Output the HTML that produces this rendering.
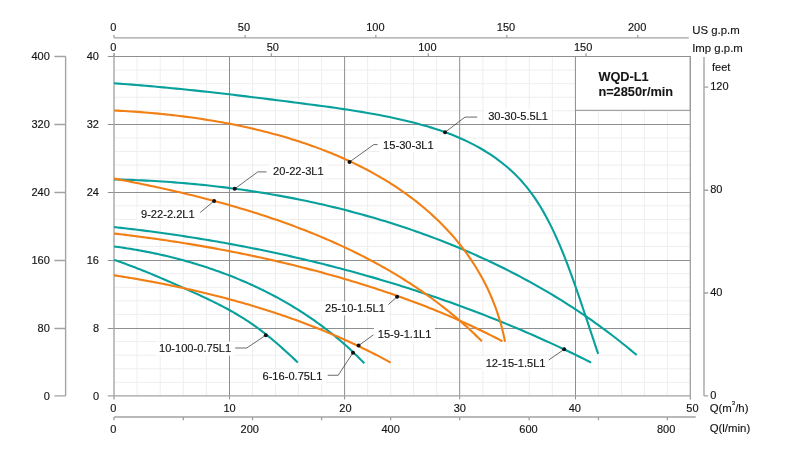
<!DOCTYPE html>
<html><head><meta charset="utf-8"><title>WQD-L1 pump curves</title>
<style>
html,body{margin:0;padding:0;background:#fff;width:800px;height:450px;overflow:hidden}
svg{display:block;will-change:transform}
text{font-family:"Liberation Sans",Arial,sans-serif;font-size:11px;fill:#151515;stroke:#151515;stroke-width:0.15px}
text.lb{font-size:11.1px}
text.u{font-size:11.4px}
text.bd{font-size:12.75px;font-weight:bold;stroke-width:0.1px}
</style></head><body>
<svg width="800" height="450" viewBox="0 0 800 450">
<rect width="800" height="450" fill="#fff"/>
<path d="M137.10 56.5V395.9 M160.20 56.5V395.9 M183.30 56.5V395.9 M206.40 56.5V395.9 M252.52 56.5V395.9 M275.54 56.5V395.9 M298.56 56.5V395.9 M321.58 56.5V395.9 M367.62 56.5V395.9 M390.64 56.5V395.9 M413.66 56.5V395.9 M436.68 56.5V395.9 M482.86 56.5V395.9 M506.02 56.5V395.9 M529.18 56.5V395.9 M552.34 56.5V395.9 M598.46 56.5V395.9 M621.42 56.5V395.9 M644.38 56.5V395.9 M667.34 56.5V395.9 M114 382.32H690.3 M114 368.75H690.3 M114 355.17H690.3 M114 341.60H690.3 M114 314.44H690.3 M114 300.87H690.3 M114 287.29H690.3 M114 273.72H690.3 M114 246.56H690.3 M114 232.99H690.3 M114 219.41H690.3 M114 205.84H690.3 M114 178.68H690.3 M114 165.11H690.3 M114 151.53H690.3 M114 137.96H690.3 M114 110.80H690.3 M114 97.23H690.3 M114 83.65H690.3 M114 70.08H690.3" stroke="#eeeeee" stroke-width="1" fill="none"/>
<path d="M229.50 56.5V399.4 M344.60 56.5V399.4 M459.70 56.5V399.4 M575.50 56.5V399.4 M107.8 328.50H690.3 M107.8 260.50H690.3 M107.8 192.50H690.3 M107.8 124.50H690.3" stroke="#8f8f8f" stroke-width="1" fill="none"/>
<rect x="484.40" y="108.90" width="67.16" height="14" fill="#fff"/>
<rect x="379.30" y="138.15" width="57.90" height="14" fill="#fff"/>
<rect x="269.30" y="164.40" width="57.90" height="14" fill="#fff"/>
<rect x="137.20" y="206.90" width="60.99" height="14" fill="#fff"/>
<rect x="321.20" y="301.40" width="67.16" height="14" fill="#fff"/>
<rect x="373.95" y="327.50" width="60.99" height="14" fill="#fff"/>
<rect x="155.20" y="341.60" width="79.50" height="14" fill="#fff"/>
<rect x="258.70" y="369.60" width="67.16" height="14" fill="#fff"/>
<rect x="481.90" y="356.80" width="67.16" height="14" fill="#fff"/>
<rect x="575.4" y="56.5" width="114.9" height="53.8" fill="#fff" stroke="#8f8f8f" stroke-width="1"/>
<text x="598.4" y="81.3" class="bd">WQD-L1</text>
<text x="598.4" y="95.7" class="bd">n=2850r/min</text>
<path d="M107.8 56.5H690.3" stroke="#8f8f8f" stroke-width="1" fill="none"/>
<path d="M690.3 56.5V399.4" stroke="#999" stroke-width="1.2" fill="none"/>
<path d="M114 53.2V399.4 M107.8 395.9H690.3" stroke="#a2a2a2" stroke-width="1.35" fill="none"/>
<path d="M113.98 83.31 L118.53 83.63 L123.06 83.96 L127.57 84.30 L132.08 84.65 L136.57 85.01 L141.04 85.37 L145.51 85.75 L149.97 86.13 L154.41 86.53 L158.85 86.93 L163.27 87.33 L167.69 87.75 L172.10 88.18 L176.51 88.61 L180.90 89.05 L185.29 89.49 L189.67 89.95 L194.05 90.41 L198.43 90.87 L202.80 91.35 L207.17 91.83 L211.53 92.31 L215.89 92.80 L220.25 93.30 L224.61 93.80 L228.97 94.31 L233.33 94.83 L237.69 95.34 L242.05 95.87 L246.42 96.40 L250.79 96.93 L255.16 97.46 L259.53 98.00 L263.91 98.55 L268.29 99.10 L272.68 99.65 L277.07 100.20 L281.47 100.76 L285.88 101.32 L290.30 101.89 L294.72 102.45 L299.16 103.02 L303.60 103.59 L308.05 104.17 L312.51 104.75 L316.97 105.34 L321.44 105.94 L325.91 106.54 L330.38 107.16 L334.86 107.79 L339.33 108.44 L343.81 109.09 L348.28 109.77 L352.75 110.46 L357.21 111.18 L361.67 111.91 L366.13 112.67 L370.57 113.45 L375.01 114.25 L379.43 115.08 L383.85 115.94 L388.25 116.83 L392.65 117.75 L397.02 118.70 L401.38 119.68 L405.73 120.70 L410.06 121.75 L414.36 122.84 L418.65 123.97 L422.92 125.15 L427.17 126.36 L431.39 127.63 L435.59 128.95 L439.77 130.33 L443.91 131.77 L448.03 133.27 L452.13 134.84 L456.19 136.48 L460.22 138.20 L464.22 140.00 L468.18 141.87 L472.12 143.84 L476.01 145.89 L479.87 148.03 L483.67 150.26 L487.43 152.58 L491.13 154.98 L494.76 157.48 L498.34 160.05 L501.84 162.72 L505.26 165.48 L508.61 168.32 L511.87 171.25 L515.04 174.26 L518.12 177.36 L521.10 180.55 L523.97 183.83 L526.76 187.18 L529.45 190.62 L532.05 194.12 L534.56 197.70 L537.00 201.34 L539.36 205.05 L541.64 208.81 L543.86 212.63 L546.01 216.49 L548.10 220.41 L550.13 224.37 L552.10 228.36 L554.03 232.40 L555.91 236.46 L557.74 240.56 L559.53 244.68 L561.28 248.82 L562.99 252.99 L564.67 257.18 L566.31 261.39 L567.93 265.61 L569.52 269.85 L571.08 274.10 L572.61 278.35 L574.13 282.62 L575.63 286.89 L577.11 291.16 L578.58 295.43 L580.03 299.70 L581.48 303.96 L582.92 308.22 L584.35 312.47 L585.77 316.70 L587.19 320.93 L588.59 325.14 L589.99 329.32 L591.37 333.49 L592.75 337.64 L594.11 341.76 L595.47 345.85 L596.81 349.92 L598.15 353.95" stroke="#07a09c" stroke-width="2.1" fill="none"/>
<path d="M114.02 179.44 L118.03 179.53 L122.05 179.64 L126.06 179.76 L130.08 179.89 L134.10 180.04 L138.12 180.21 L142.15 180.39 L146.17 180.58 L150.20 180.79 L154.23 181.02 L158.25 181.26 L162.28 181.51 L166.31 181.78 L170.34 182.06 L174.37 182.36 L178.41 182.68 L182.44 183.01 L186.47 183.35 L190.50 183.71 L194.53 184.09 L198.57 184.48 L202.60 184.89 L206.63 185.31 L210.66 185.75 L214.69 186.20 L218.72 186.67 L222.74 187.15 L226.77 187.65 L230.79 188.17 L234.82 188.70 L238.84 189.25 L242.86 189.82 L246.88 190.40 L250.90 191.00 L254.91 191.61 L258.92 192.24 L262.93 192.89 L266.94 193.55 L270.95 194.23 L274.95 194.92 L278.95 195.64 L282.95 196.36 L286.94 197.11 L290.93 197.87 L294.92 198.65 L298.90 199.45 L302.88 200.26 L306.86 201.09 L310.83 201.94 L314.80 202.80 L318.77 203.68 L322.73 204.58 L326.69 205.50 L330.64 206.43 L334.59 207.38 L338.53 208.35 L342.47 209.33 L346.40 210.34 L350.33 211.36 L354.25 212.40 L358.17 213.45 L362.08 214.53 L365.98 215.62 L369.88 216.73 L373.78 217.85 L377.67 219.00 L381.55 220.16 L385.43 221.34 L389.30 222.54 L393.16 223.76 L397.02 225.00 L400.86 226.25 L404.71 227.53 L408.54 228.82 L412.37 230.13 L416.19 231.46 L420.01 232.80 L423.81 234.17 L427.61 235.55 L431.40 236.96 L435.19 238.38 L438.96 239.82 L442.73 241.28 L446.49 242.76 L450.24 244.26 L453.98 245.77 L457.71 247.31 L461.44 248.87 L465.15 250.44 L468.86 252.04 L472.56 253.65 L476.25 255.28 L479.92 256.94 L483.59 258.61 L487.25 260.30 L490.90 262.01 L494.54 263.74 L498.17 265.49 L501.79 267.27 L505.40 269.06 L508.99 270.87 L512.58 272.70 L516.16 274.55 L519.73 276.42 L523.28 278.31 L526.82 280.22 L530.36 282.16 L533.88 284.11 L537.39 286.08 L540.89 288.08 L544.37 290.09 L547.85 292.12 L551.31 294.18 L554.76 296.26 L558.20 298.35 L561.62 300.47 L565.04 302.61 L568.44 304.77 L571.83 306.95 L575.20 309.15 L578.56 311.37 L581.91 313.62 L585.25 315.88 L588.57 318.17 L591.88 320.47 L595.17 322.80 L598.45 325.15 L601.72 327.53 L604.97 329.92 L608.21 332.33 L611.44 334.77 L614.65 337.23 L617.84 339.71 L621.03 342.21 L624.19 344.74 L627.34 347.28 L630.48 349.85 L633.60 352.44 L636.71 355.05" stroke="#07a09c" stroke-width="2.1" fill="none"/>
<path d="M114.01 227.06 L117.57 227.45 L121.13 227.85 L124.69 228.26 L128.25 228.67 L131.81 229.09 L135.36 229.52 L138.92 229.96 L142.48 230.41 L146.03 230.86 L149.59 231.32 L153.14 231.79 L156.70 232.27 L160.25 232.75 L163.80 233.25 L167.35 233.75 L170.91 234.25 L174.46 234.77 L178.00 235.30 L181.55 235.83 L185.10 236.37 L188.65 236.92 L192.19 237.47 L195.73 238.04 L199.28 238.61 L202.82 239.19 L206.36 239.78 L209.90 240.38 L213.44 240.98 L216.97 241.59 L220.51 242.21 L224.04 242.84 L227.58 243.48 L231.11 244.13 L234.64 244.78 L238.17 245.44 L241.69 246.11 L245.22 246.79 L248.74 247.48 L252.26 248.17 L255.79 248.88 L259.30 249.59 L262.82 250.31 L266.34 251.04 L269.85 251.78 L273.36 252.52 L276.87 253.28 L280.38 254.04 L283.89 254.81 L287.40 255.59 L290.90 256.38 L294.40 257.17 L297.90 257.98 L301.40 258.79 L304.89 259.61 L308.38 260.44 L311.87 261.28 L315.36 262.13 L318.85 262.99 L322.33 263.85 L325.82 264.73 L329.30 265.61 L332.77 266.50 L336.25 267.40 L339.72 268.31 L343.19 269.22 L346.66 270.15 L350.13 271.09 L353.59 272.03 L357.05 272.98 L360.51 273.94 L363.96 274.91 L367.42 275.89 L370.87 276.88 L374.32 277.88 L377.76 278.88 L381.20 279.90 L384.64 280.92 L388.08 281.95 L391.51 282.99 L394.94 284.04 L398.37 285.10 L401.80 286.17 L405.22 287.25 L408.64 288.34 L412.06 289.43 L415.47 290.54 L418.88 291.65 L422.29 292.78 L425.69 293.91 L429.09 295.05 L432.49 296.20 L435.88 297.36 L439.27 298.53 L442.66 299.71 L446.05 300.90 L449.43 302.09 L452.81 303.30 L456.18 304.51 L459.55 305.74 L462.92 306.97 L466.28 308.22 L469.64 309.47 L473.00 310.73 L476.35 312.00 L479.70 313.29 L483.05 314.58 L486.39 315.88 L489.73 317.19 L493.06 318.51 L496.40 319.83 L499.72 321.17 L503.05 322.52 L506.37 323.88 L509.68 325.24 L512.99 326.62 L516.30 328.01 L519.60 329.40 L522.90 330.81 L526.20 332.22 L529.49 333.65 L532.78 335.08 L536.06 336.53 L539.34 337.98 L542.61 339.45 L545.88 340.92 L549.15 342.40 L552.41 343.90 L555.67 345.40 L558.92 346.91 L562.17 348.43 L565.42 349.97 L568.65 351.51 L571.89 353.06 L575.12 354.62 L578.35 356.20 L581.57 357.78 L584.79 359.37 L588.00 360.97 L591.20 362.58" stroke="#07a09c" stroke-width="2.1" fill="none"/>
<path d="M114.01 246.48 L116.00 246.74 L117.99 247.01 L119.99 247.29 L121.98 247.57 L123.97 247.87 L125.96 248.17 L127.96 248.48 L129.95 248.80 L131.94 249.12 L133.93 249.45 L135.92 249.79 L137.91 250.14 L139.90 250.50 L141.89 250.86 L143.88 251.23 L145.87 251.61 L147.85 252.00 L149.84 252.39 L151.82 252.80 L153.81 253.21 L155.79 253.63 L157.77 254.05 L159.75 254.49 L161.73 254.93 L163.70 255.38 L165.68 255.84 L167.65 256.31 L169.63 256.78 L171.60 257.27 L173.57 257.76 L175.54 258.26 L177.50 258.76 L179.46 259.28 L181.43 259.80 L183.39 260.33 L185.34 260.87 L187.30 261.42 L189.25 261.98 L191.21 262.54 L193.15 263.12 L195.10 263.70 L197.05 264.29 L198.99 264.89 L200.93 265.49 L202.86 266.11 L204.80 266.73 L206.73 267.36 L208.66 268.00 L210.58 268.65 L212.50 269.30 L214.42 269.97 L216.34 270.64 L218.25 271.32 L220.16 272.01 L222.07 272.71 L223.97 273.42 L225.88 274.14 L227.77 274.86 L229.67 275.59 L231.56 276.33 L233.44 277.08 L235.32 277.84 L237.20 278.61 L239.08 279.39 L240.95 280.17 L242.82 280.96 L244.68 281.76 L246.54 282.57 L248.39 283.39 L250.24 284.22 L252.09 285.06 L253.93 285.90 L255.77 286.76 L257.60 287.62 L259.43 288.49 L261.26 289.37 L263.08 290.26 L264.89 291.16 L266.70 292.07 L268.51 292.98 L270.31 293.91 L272.10 294.84 L273.90 295.78 L275.68 296.74 L277.46 297.70 L279.24 298.67 L281.01 299.64 L282.77 300.63 L284.53 301.63 L286.29 302.63 L288.04 303.65 L289.78 304.67 L291.52 305.71 L293.25 306.75 L294.97 307.80 L296.69 308.86 L298.41 309.93 L300.12 311.01 L301.82 312.09 L303.52 313.19 L305.21 314.30 L306.89 315.41 L308.57 316.54 L310.24 317.67 L311.90 318.81 L313.56 319.97 L315.22 321.13 L316.86 322.30 L318.50 323.48 L320.13 324.67 L321.76 325.87 L323.38 327.08 L324.99 328.29 L326.60 329.52 L328.19 330.76 L329.78 332.00 L331.37 333.26 L332.95 334.52 L334.52 335.80 L336.08 337.08 L337.63 338.38 L339.18 339.68 L340.72 340.99 L342.25 342.31 L343.78 343.65 L345.29 344.99 L346.80 346.34 L348.31 347.70 L349.80 349.07 L351.29 350.45 L352.76 351.84 L354.23 353.24 L355.70 354.65 L357.15 356.07 L358.59 357.49 L360.03 358.93 L361.46 360.38 L362.88 361.84 L364.29 363.31" stroke="#07a09c" stroke-width="2.1" fill="none"/>
<path d="M114.00 259.90 L115.43 260.37 L116.85 260.85 L118.28 261.34 L119.70 261.83 L121.13 262.33 L122.56 262.83 L123.98 263.34 L125.41 263.86 L126.84 264.38 L128.27 264.90 L129.69 265.43 L131.12 265.97 L132.55 266.51 L133.98 267.05 L135.41 267.60 L136.84 268.15 L138.27 268.71 L139.69 269.27 L141.12 269.84 L142.55 270.41 L143.98 270.98 L145.41 271.56 L146.83 272.14 L148.26 272.72 L149.69 273.31 L151.11 273.90 L152.54 274.49 L153.96 275.09 L155.39 275.69 L156.81 276.29 L158.24 276.89 L159.66 277.50 L161.08 278.10 L162.50 278.71 L163.92 279.33 L165.34 279.94 L166.76 280.55 L168.17 281.17 L169.59 281.79 L171.00 282.41 L172.42 283.03 L173.83 283.65 L175.24 284.27 L176.65 284.89 L178.06 285.52 L179.47 286.14 L180.87 286.76 L182.28 287.39 L183.68 288.01 L185.08 288.64 L186.48 289.26 L187.88 289.88 L189.27 290.51 L190.67 291.14 L192.06 291.76 L193.45 292.39 L194.84 293.02 L196.22 293.65 L197.61 294.28 L198.99 294.92 L200.37 295.55 L201.75 296.19 L203.12 296.84 L204.50 297.48 L205.87 298.13 L207.24 298.78 L208.61 299.43 L209.97 300.09 L211.33 300.75 L212.69 301.41 L214.05 302.08 L215.40 302.75 L216.75 303.43 L218.10 304.11 L219.45 304.79 L220.79 305.49 L222.13 306.18 L223.47 306.88 L224.81 307.59 L226.14 308.30 L227.47 309.02 L228.79 309.75 L230.11 310.48 L231.43 311.21 L232.75 311.96 L234.06 312.71 L235.37 313.47 L236.68 314.23 L237.98 315.00 L239.28 315.78 L240.58 316.57 L241.87 317.37 L243.16 318.17 L244.44 318.98 L245.73 319.81 L247.00 320.64 L248.28 321.47 L249.55 322.32 L250.81 323.18 L252.08 324.05 L253.34 324.92 L254.59 325.81 L255.84 326.70 L257.09 327.60 L258.33 328.52 L259.57 329.44 L260.80 330.36 L262.03 331.30 L263.26 332.24 L264.48 333.19 L265.69 334.15 L266.91 335.11 L268.11 336.08 L269.32 337.06 L270.51 338.04 L271.71 339.03 L272.90 340.02 L274.08 341.02 L275.26 342.02 L276.44 343.02 L277.61 344.03 L278.77 345.05 L279.93 346.07 L281.09 347.08 L282.24 348.11 L283.38 349.13 L284.52 350.16 L285.65 351.18 L286.78 352.21 L287.91 353.24 L289.03 354.26 L290.14 355.29 L291.25 356.31 L292.35 357.34 L293.45 358.36 L294.54 359.38 L295.62 360.39 L296.70 361.41 L297.78 362.42" stroke="#07a09c" stroke-width="2.1" fill="none"/>
<path d="M114.08 110.49 L117.43 110.65 L120.80 110.83 L124.17 111.02 L127.56 111.22 L130.96 111.44 L134.37 111.67 L137.79 111.91 L141.22 112.17 L144.66 112.44 L148.11 112.72 L151.56 113.02 L155.03 113.33 L158.50 113.66 L161.98 114.00 L165.46 114.36 L168.95 114.73 L172.45 115.12 L175.96 115.53 L179.46 115.95 L182.98 116.38 L186.49 116.84 L190.01 117.31 L193.54 117.80 L197.06 118.30 L200.59 118.82 L204.12 119.36 L207.66 119.92 L211.19 120.49 L214.72 121.08 L218.26 121.70 L221.79 122.33 L225.33 122.97 L228.86 123.64 L232.39 124.33 L235.92 125.03 L239.45 125.76 L242.97 126.51 L246.49 127.27 L250.01 128.06 L253.52 128.87 L257.03 129.69 L260.53 130.54 L264.03 131.41 L267.52 132.30 L271.01 133.21 L274.49 134.15 L277.96 135.10 L281.43 136.08 L284.88 137.08 L288.33 138.11 L291.77 139.15 L295.20 140.22 L298.62 141.31 L302.03 142.43 L305.43 143.57 L308.82 144.73 L312.19 145.92 L315.56 147.13 L318.91 148.37 L322.25 149.63 L325.58 150.91 L328.89 152.23 L332.19 153.56 L335.48 154.92 L338.75 156.31 L342.00 157.73 L345.24 159.17 L348.46 160.63 L351.67 162.13 L354.85 163.65 L358.03 165.19 L361.18 166.77 L364.31 168.37 L367.43 170.00 L370.53 171.66 L373.60 173.35 L376.66 175.06 L379.69 176.80 L382.71 178.57 L385.70 180.37 L388.68 182.20 L391.63 184.06 L394.55 185.95 L397.46 187.87 L400.34 189.82 L403.19 191.80 L406.02 193.81 L408.83 195.85 L411.61 197.92 L414.37 200.02 L417.10 202.16 L419.80 204.32 L422.47 206.52 L425.12 208.75 L427.74 211.00 L430.33 213.29 L432.89 215.62 L435.41 217.97 L437.91 220.35 L440.38 222.77 L442.81 225.22 L445.21 227.70 L447.57 230.21 L449.91 232.75 L452.20 235.32 L454.46 237.93 L456.69 240.56 L458.87 243.23 L461.02 245.93 L463.14 248.67 L465.21 251.43 L467.24 254.23 L469.24 257.05 L471.19 259.91 L473.10 262.80 L474.97 265.73 L476.80 268.68 L478.59 271.67 L480.33 274.69 L482.03 277.74 L483.68 280.82 L485.28 283.93 L486.85 287.08 L488.36 290.26 L489.83 293.47 L491.24 296.71 L492.61 299.99 L493.93 303.30 L495.20 306.64 L496.42 310.01 L497.59 313.41 L498.71 316.85 L499.77 320.32 L500.79 323.82 L501.74 327.35 L502.65 330.92 L503.50 334.51 L504.29 338.14 L505.03 341.81" stroke="#f17f14" stroke-width="2.1" fill="none"/>
<path d="M114.03 178.57 L116.87 179.11 L119.72 179.65 L122.57 180.19 L125.42 180.75 L128.28 181.30 L131.13 181.87 L133.99 182.43 L136.85 183.01 L139.71 183.59 L142.57 184.17 L145.43 184.76 L148.29 185.36 L151.16 185.96 L154.02 186.57 L156.89 187.19 L159.76 187.81 L162.62 188.44 L165.49 189.07 L168.36 189.71 L171.23 190.36 L174.09 191.02 L176.96 191.68 L179.83 192.35 L182.70 193.02 L185.57 193.71 L188.43 194.40 L191.30 195.09 L194.16 195.80 L197.03 196.51 L199.89 197.23 L202.76 197.96 L205.62 198.69 L208.48 199.43 L211.34 200.19 L214.19 200.94 L217.05 201.71 L219.90 202.49 L222.76 203.27 L225.61 204.06 L228.46 204.86 L231.30 205.67 L234.15 206.49 L236.99 207.32 L239.83 208.15 L242.66 209.00 L245.50 209.85 L248.33 210.71 L251.16 211.59 L253.98 212.47 L256.80 213.36 L259.62 214.26 L262.44 215.17 L265.25 216.09 L268.06 217.02 L270.86 217.96 L273.66 218.90 L276.46 219.86 L279.25 220.83 L282.04 221.81 L284.83 222.80 L287.61 223.80 L290.38 224.81 L293.16 225.83 L295.92 226.87 L298.68 227.91 L301.44 228.96 L304.19 230.03 L306.94 231.10 L309.68 232.19 L312.42 233.29 L315.15 234.40 L317.87 235.52 L320.59 236.65 L323.31 237.79 L326.01 238.95 L328.71 240.12 L331.41 241.30 L334.10 242.49 L336.78 243.69 L339.46 244.90 L342.13 246.13 L344.79 247.37 L347.45 248.62 L350.10 249.89 L352.74 251.17 L355.38 252.46 L358.00 253.76 L360.63 255.07 L363.24 256.40 L365.85 257.74 L368.44 259.10 L371.03 260.47 L373.62 261.85 L376.19 263.24 L378.76 264.65 L381.32 266.07 L383.86 267.51 L386.41 268.96 L388.94 270.42 L391.46 271.90 L393.98 273.39 L396.48 274.89 L398.98 276.41 L401.47 277.95 L403.95 279.50 L406.42 281.06 L408.88 282.64 L411.33 284.23 L413.77 285.83 L416.20 287.46 L418.62 289.09 L421.04 290.74 L423.44 292.41 L425.83 294.09 L428.21 295.79 L430.58 297.50 L432.94 299.23 L435.29 300.97 L437.63 302.73 L439.95 304.51 L442.27 306.30 L444.58 308.11 L446.87 309.93 L449.15 311.77 L451.42 313.63 L453.68 315.50 L455.93 317.39 L458.17 319.29 L460.39 321.21 L462.60 323.15 L464.80 325.10 L466.99 327.08 L469.17 329.06 L471.33 331.07 L473.48 333.09 L475.62 335.13 L477.75 337.19 L479.86 339.26 L481.96 341.36" stroke="#f17f14" stroke-width="2.1" fill="none"/>
<path d="M114.02 233.54 L116.89 233.87 L119.77 234.21 L122.65 234.55 L125.53 234.90 L128.41 235.25 L131.29 235.60 L134.17 235.97 L137.05 236.34 L139.93 236.71 L142.81 237.09 L145.69 237.47 L148.57 237.86 L151.45 238.26 L154.33 238.66 L157.21 239.07 L160.09 239.48 L162.97 239.90 L165.86 240.32 L168.74 240.75 L171.62 241.18 L174.50 241.62 L177.38 242.07 L180.26 242.52 L183.14 242.98 L186.02 243.44 L188.90 243.91 L191.78 244.39 L194.66 244.87 L197.53 245.36 L200.41 245.85 L203.29 246.35 L206.16 246.85 L209.04 247.36 L211.92 247.88 L214.79 248.40 L217.66 248.93 L220.54 249.46 L223.41 250.00 L226.28 250.55 L229.15 251.10 L232.02 251.66 L234.89 252.23 L237.75 252.80 L240.62 253.37 L243.49 253.96 L246.35 254.55 L249.21 255.14 L252.07 255.74 L254.93 256.35 L257.79 256.97 L260.65 257.59 L263.51 258.21 L266.36 258.85 L269.22 259.49 L272.07 260.13 L274.92 260.78 L277.77 261.44 L280.61 262.11 L283.46 262.78 L286.30 263.46 L289.15 264.14 L291.99 264.84 L294.83 265.53 L297.66 266.24 L300.50 266.95 L303.33 267.67 L306.16 268.39 L308.99 269.12 L311.82 269.86 L314.64 270.60 L317.47 271.35 L320.29 272.11 L323.11 272.88 L325.92 273.65 L328.74 274.43 L331.55 275.21 L334.36 276.00 L337.17 276.80 L339.97 277.61 L342.77 278.42 L345.57 279.24 L348.37 280.06 L351.17 280.90 L353.96 281.74 L356.75 282.59 L359.54 283.44 L362.32 284.30 L365.10 285.17 L367.88 286.05 L370.66 286.93 L373.43 287.83 L376.20 288.73 L378.97 289.64 L381.73 290.55 L384.49 291.48 L387.25 292.41 L390.01 293.35 L392.76 294.30 L395.51 295.25 L398.25 296.22 L401.00 297.19 L403.74 298.17 L406.47 299.16 L409.20 300.16 L411.93 301.17 L414.66 302.19 L417.38 303.22 L420.10 304.25 L422.81 305.29 L425.53 306.35 L428.23 307.41 L430.94 308.48 L433.64 309.56 L436.34 310.66 L439.03 311.76 L441.72 312.87 L444.40 313.99 L447.08 315.12 L449.76 316.26 L452.43 317.41 L455.10 318.56 L457.77 319.73 L460.43 320.91 L463.09 322.11 L465.74 323.31 L468.39 324.52 L471.03 325.74 L473.67 326.97 L476.31 328.21 L478.94 329.47 L481.57 330.73 L484.19 332.01 L486.81 333.30 L489.42 334.59 L492.03 335.90 L494.64 337.22 L497.24 338.55 L499.83 339.90 L502.42 341.25" stroke="#f17f14" stroke-width="2.1" fill="none"/>
<path d="M114.00 275.29 L116.07 275.61 L118.14 275.94 L120.21 276.27 L122.27 276.60 L124.34 276.93 L126.41 277.27 L128.48 277.61 L130.54 277.96 L132.61 278.31 L134.68 278.66 L136.74 279.02 L138.81 279.38 L140.88 279.74 L142.94 280.11 L145.01 280.48 L147.07 280.85 L149.14 281.23 L151.20 281.62 L153.26 282.00 L155.33 282.39 L157.39 282.79 L159.45 283.18 L161.51 283.59 L163.57 283.99 L165.64 284.40 L167.69 284.81 L169.75 285.23 L171.81 285.65 L173.87 286.08 L175.93 286.51 L177.98 286.94 L180.04 287.38 L182.10 287.82 L184.15 288.27 L186.20 288.72 L188.26 289.17 L190.31 289.63 L192.36 290.09 L194.41 290.56 L196.46 291.03 L198.51 291.51 L200.55 291.99 L202.60 292.47 L204.64 292.96 L206.69 293.45 L208.73 293.95 L210.77 294.45 L212.81 294.96 L214.85 295.47 L216.89 295.99 L218.93 296.51 L220.97 297.03 L223.00 297.56 L225.03 298.09 L227.07 298.63 L229.10 299.17 L231.13 299.72 L233.15 300.27 L235.18 300.83 L237.21 301.39 L239.23 301.96 L241.25 302.53 L243.27 303.10 L245.29 303.68 L247.31 304.27 L249.33 304.86 L251.34 305.46 L253.36 306.06 L255.37 306.66 L257.38 307.27 L259.39 307.89 L261.39 308.51 L263.40 309.13 L265.40 309.76 L267.40 310.40 L269.40 311.04 L271.40 311.68 L273.39 312.33 L275.39 312.99 L277.38 313.65 L279.37 314.31 L281.36 314.98 L283.34 315.66 L285.33 316.34 L287.31 317.03 L289.29 317.72 L291.27 318.42 L293.25 319.12 L295.22 319.83 L297.19 320.54 L299.16 321.26 L301.13 321.99 L303.09 322.72 L305.06 323.45 L307.02 324.19 L308.98 324.94 L310.93 325.69 L312.89 326.45 L314.84 327.21 L316.79 327.98 L318.73 328.76 L320.68 329.54 L322.62 330.32 L324.56 331.11 L326.50 331.91 L328.43 332.71 L330.36 333.52 L332.29 334.34 L334.22 335.16 L336.14 335.99 L338.07 336.82 L339.98 337.66 L341.90 338.50 L343.81 339.35 L345.73 340.21 L347.63 341.07 L349.54 341.93 L351.44 342.81 L353.34 343.69 L355.24 344.57 L357.13 345.47 L359.02 346.37 L360.91 347.27 L362.80 348.18 L364.68 349.10 L366.56 350.02 L368.43 350.95 L370.31 351.88 L372.18 352.83 L374.04 353.77 L375.91 354.73 L377.77 355.69 L379.63 356.66 L381.48 357.63 L383.33 358.61 L385.18 359.60 L387.02 360.59 L388.86 361.59 L390.70 362.59" stroke="#f17f14" stroke-width="2.1" fill="none"/>
<path d="M445 132.3 L465 117.1 L477.2 117.1" stroke="#444" stroke-width="0.8" fill="none"/>
<circle cx="445" cy="132.3" r="2" fill="#111"/>
<text x="488.2" y="119.5" class="lb">30-30-5.5L1</text>
<path d="M349.5 162 L373.75 144.6 L377.5 144.6" stroke="#444" stroke-width="0.8" fill="none"/>
<circle cx="349.5" cy="162" r="2" fill="#111"/>
<text x="383.1" y="148.75" class="lb">15-30-3L1</text>
<path d="M234.7 188.8 L257.75 171.9 L266.5 171.9" stroke="#444" stroke-width="0.8" fill="none"/>
<circle cx="234.7" cy="188.8" r="2" fill="#111"/>
<text x="273.1" y="175" class="lb">20-22-3L1</text>
<path d="M214.1 200.9 L200.25 212.5" stroke="#444" stroke-width="0.8" fill="none"/>
<circle cx="214.1" cy="200.9" r="2" fill="#111"/>
<text x="141" y="217.5" class="lb">9-22-2.2L1</text>
<path d="M397.1 296.75 L388.3 304.6" stroke="#444" stroke-width="0.8" fill="none"/>
<circle cx="397.1" cy="296.75" r="2" fill="#111"/>
<text x="325" y="312.0" class="lb">25-10-1.5L1</text>
<path d="M358.6 345.6 L373.5 334.75" stroke="#444" stroke-width="0.8" fill="none"/>
<circle cx="358.6" cy="345.6" r="2" fill="#111"/>
<text x="377.75" y="338.1" class="lb">15-9-1.1L1</text>
<path d="M265.8 335.2 L246.7 348 L235.2 348" stroke="#444" stroke-width="0.8" fill="none"/>
<circle cx="265.8" cy="335.2" r="2" fill="#111"/>
<text x="159" y="352.2" class="lb">10-100-0.75L1</text>
<path d="M353 352.7 L338.2 375.25 L327.7 375.25" stroke="#444" stroke-width="0.8" fill="none"/>
<circle cx="353" cy="352.7" r="2" fill="#111"/>
<text x="262.5" y="380.2" class="lb">6-16-0.75L1</text>
<path d="M564.2 349.3 L548.7 360" stroke="#444" stroke-width="0.8" fill="none"/>
<circle cx="564.2" cy="349.3" r="2" fill="#111"/>
<text x="485.7" y="367.4" class="lb">12-15-1.5L1</text>
<text x="99" y="399.60" text-anchor="end">0</text>
<text x="99" y="331.72" text-anchor="end">8</text>
<text x="99" y="263.84" text-anchor="end">16</text>
<text x="99" y="195.96" text-anchor="end">24</text>
<text x="99" y="128.08" text-anchor="end">32</text>
<text x="99" y="60.20" text-anchor="end">40</text>
<path d="M65.6 56.5V395.9 M54.4 395.90H65.6 M54.4 328.50H65.6 M54.4 260.50H65.6 M54.4 192.50H65.6 M54.4 124.50H65.6 M54.4 56.50H65.6" stroke="#a2a2a2" stroke-width="1.35" fill="none"/>
<text x="49.8" y="399.60" text-anchor="end">0</text>
<text x="49.8" y="331.72" text-anchor="end">80</text>
<text x="49.8" y="263.84" text-anchor="end">160</text>
<text x="49.8" y="195.96" text-anchor="end">240</text>
<text x="49.8" y="128.08" text-anchor="end">320</text>
<text x="49.8" y="60.20" text-anchor="end">400</text>
<path d="M704 57V395.9 M704 395.90H708.2 M704 293.00H708.2 M704 190.25H708.2 M704 87.10H708.2" stroke="#a2a2a2" stroke-width="1.35" fill="none"/>
<text x="710.2" y="398.90">0</text>
<text x="710.2" y="296.00">40</text>
<text x="710.2" y="193.25">80</text>
<text x="710.2" y="90.10">120</text>
<text x="712" y="70.5">feet</text>
<text x="113.3" y="411.9" text-anchor="middle">0</text>
<text x="229.5" y="411.9" text-anchor="middle">10</text>
<text x="345.4" y="411.9" text-anchor="middle">20</text>
<text x="459.8" y="411.9" text-anchor="middle">30</text>
<text x="574.8" y="411.9" text-anchor="middle">40</text>
<text x="692.4" y="411.9" text-anchor="middle">50</text>
<text x="709.7" y="411.9" class="u">Q(m<tspan style="font-size:6px" dy="-7.2">3</tspan><tspan dy="7.2">/h)</tspan></text>
<path d="M114 417H695.7 M114.00 417V420.3 M183.30 417V420.3 M252.52 417V420.3 M321.58 417V420.3 M390.64 417V420.3 M459.70 417V420.3 M529.18 417V420.3 M598.46 417V420.3 M667.34 417V420.3" stroke="#a2a2a2" stroke-width="1.35" fill="none"/>
<text x="113.3" y="433.2" text-anchor="middle">0</text>
<text x="249.8" y="433.2" text-anchor="middle">200</text>
<text x="390.6" y="433.2" text-anchor="middle">400</text>
<text x="528.5" y="433.2" text-anchor="middle">600</text>
<text x="666.1" y="433.2" text-anchor="middle">800</text>
<text x="709.7" y="431.9" class="u">Q(l/min)</text>
<path d="M114 37.8H688.8 M114.00 35V37.8 M245.11 35V37.8 M375.82 35V37.8 M506.81 35V37.8 M637.77 35V37.8" stroke="#a2a2a2" stroke-width="1.35" fill="none"/>
<text x="113.2" y="30.8" text-anchor="middle">0</text>
<text x="243.9" y="30.8" text-anchor="middle">50</text>
<text x="375.4" y="30.8" text-anchor="middle">100</text>
<text x="506" y="30.8" text-anchor="middle">150</text>
<text x="637.1" y="30.8" text-anchor="middle">200</text>
<text x="692.2" y="33.8" class="u">US g.p.m</text>
<path d="M114.00 53.3V56.5 M271.38 53.3V56.5 M428.36 53.3V56.5 M586.01 53.3V56.5" stroke="#a2a2a2" stroke-width="1.35" fill="none"/>
<text x="113.3" y="51.0" text-anchor="middle">0</text>
<text x="272.8" y="51.0" text-anchor="middle">50</text>
<text x="427.4" y="51.0" text-anchor="middle">100</text>
<text x="583.1" y="51.0" text-anchor="middle">150</text>
<text x="692.2" y="51.5" class="u">Imp g.p.m</text>
</svg>
</body></html>
